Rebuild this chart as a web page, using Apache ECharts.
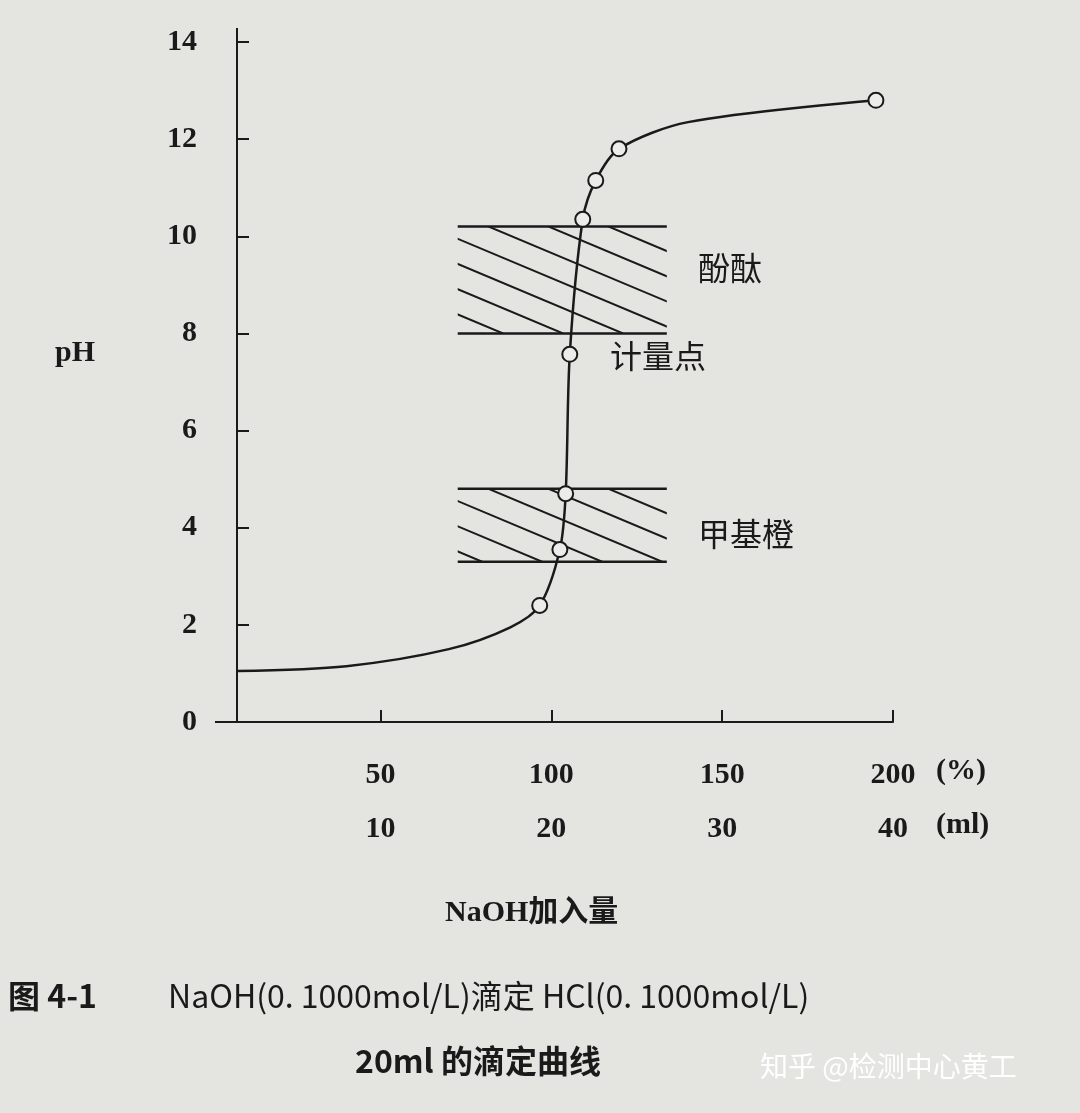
<!DOCTYPE html>
<html>
<head>
<meta charset="utf-8">
<script src="https://cdn.jsdelivr.net/npm/echarts@6/dist/echarts.min.js"></script>
<style>
  html, body { margin: 0; padding: 0; background: #e4e4e1; }
  #chart { width: 1080px; height: 1113px; }
</style>
</head>
<body>
<div id="chart"></div>
<script>
// 曲线数据（NaOH 加入量 %，pH）
const curveX = [8, 40, 70, 88, 96.6, 102.5, 104.2, 105.4, 109.2, 113, 119.8, 140, 195]
const curveY = [1.05, 1.15, 1.5, 1.95, 2.4, 3.55, 4.7, 7.57, 10.35, 11.15, 11.8, 12.35, 12.8]
const marked = [false, false, false, false, true, true, true, true, true, true, true, false, true]

// 指示剂变色范围 [x0, x1, pH下, pH上]
const bands = [
  [72.6, 133.8, 8.0, 10.2],
  [72.6, 133.8, 3.3, 4.8]
]

const pctTicks = [50, 100, 150, 200]
const mlTicks = [10, 20, 30, 40]
const yTicks = [0, 2, 4, 6, 8, 10, 12, 14]

const serif = '"Liberation Serif", "DejaVu Serif", serif'
const cjk = '"Noto Sans CJK SC", sans-serif'
const ink = '#1a1a1a'

const chart = echarts.init(document.getElementById('chart'))

chart.setOption({
  backgroundColor: '#e4e4e1',
  animation: false,
  grid: { left: 237, right: 187, top: 42, bottom: 391 },
  xAxis: {
    type: 'value',
    min: 8,
    max: 200,
    axisLine: { lineStyle: { color: ink, width: 2 } },
    splitLine: { show: false },
    axisTick: { inside: true, length: 12, lineStyle: { color: ink, width: 2 }, customValues: pctTicks },
    axisLabel: {
      customValues: pctTicks,
      margin: 26,
      formatter: (v) => '{a|' + v + '}\n{a|' + mlTicks[pctTicks.indexOf(v)] + '}',
      rich: { a: { fontFamily: serif, fontSize: 30, fontWeight: 'bold', color: ink, lineHeight: 54 } }
    }
  },
  yAxis: {
    type: 'value',
    min: 0,
    max: 14,
    axisLine: { show: true, lineStyle: { color: ink, width: 2 } },
    splitLine: { show: false },
    axisTick: { inside: true, length: 12, lineStyle: { color: ink, width: 2 }, customValues: yTicks },
    axisLabel: { customValues: yTicks, margin: 40, fontFamily: serif, fontSize: 30, fontWeight: 'bold', color: ink }
  },
  series: [
    {
      type: 'custom',
      data: bands,
      renderItem: (params, api) => {
        const p0 = api.coord([api.value(0), api.value(3)])
        const p1 = api.coord([api.value(1), api.value(2)])
        const x0 = p0[0], y0 = p0[1], x1 = p1[0], y1 = p1[1]
        const w = x1 - x0, h = y1 - y0
        const hatch = []
        const step = 60, slope = 0.42
        for (let s = -w; s < w + step; s += step) {
          hatch.push({
            type: 'line',
            shape: { x1: x0 + s, y1: y0, x2: x0 + s + h / slope, y2: y1 },
            style: { stroke: ink, lineWidth: 2 }
          })
        }
        return {
          type: 'group',
          children: [
            { type: 'group', clipPath: { type: 'rect', shape: { x: x0, y: y0, width: w, height: h } }, children: hatch },
            { type: 'line', shape: { x1: x0, y1: y0, x2: x1, y2: y0 }, style: { stroke: ink, lineWidth: 2.5 } },
            { type: 'line', shape: { x1: x0, y1: y1, x2: x1, y2: y1 }, style: { stroke: ink, lineWidth: 2.5 } }
          ]
        }
      },
      z: 1
    },
    {
      type: 'line',
      smooth: 0.3,
      data: curveX.map((x, i) => ({
        value: [x, curveY[i]],
        symbol: marked[i] ? 'circle' : 'none'
      })),
      symbolSize: 15,
      lineStyle: { color: ink, width: 2.5 },
      itemStyle: { color: '#ececea', borderColor: ink, borderWidth: 2 },
      z: 3
    }
  ],
  graphic: [
    { type: 'line', shape: { x1: 215, y1: 722, x2: 237, y2: 722 }, style: { stroke: ink, lineWidth: 2 } },
    { type: 'line', shape: { x1: 237, y1: 28, x2: 237, y2: 42 }, style: { stroke: ink, lineWidth: 2 } },
    { type: 'text', left: 55, top: 338, style: { text: 'pH', font: 'bold 30px ' + serif, fill: ink } },
    { type: 'text', left: 936, top: 756, style: { text: '(%)', font: 'bold 30px ' + serif, fill: ink } },
    { type: 'text', left: 936, top: 810, style: { text: '(ml)', font: 'bold 30px ' + serif, fill: ink } },
    { type: 'text', left: 698, top: 252, style: { text: '酚酞', font: '32px ' + cjk, fill: ink } },
    { type: 'text', left: 610, top: 340, style: { text: '计量点', font: '32px ' + cjk, fill: ink } },
    { type: 'text', left: 698, top: 518, style: { text: '甲基橙', font: '32px ' + cjk, fill: ink } },
    { type: 'text', left: 445, top: 898, style: { text: 'NaOH加入量', font: 'bold 30px ' + serif + ', ' + cjk, fill: ink } },
    { type: 'text', left: 8, top: 980, style: { text: '图 4-1', font: 'bold 32px ' + cjk, fill: ink } },
    { type: 'text', left: 168, top: 980, style: { text: 'NaOH(0. 1000mol/L)滴定 HCl(0. 1000mol/L)', font: '32px ' + cjk, fill: ink } },
    { type: 'text', left: 355, top: 1045, style: { text: '20ml 的滴定曲线', font: 'bold 32px ' + cjk, fill: ink } },
    { type: 'text', left: 760, top: 1052, style: { text: '知乎 @检测中心黄工', font: '28px ' + cjk, fill: '#ffffff' } }
  ]
})
</script>
</body>
</html>
